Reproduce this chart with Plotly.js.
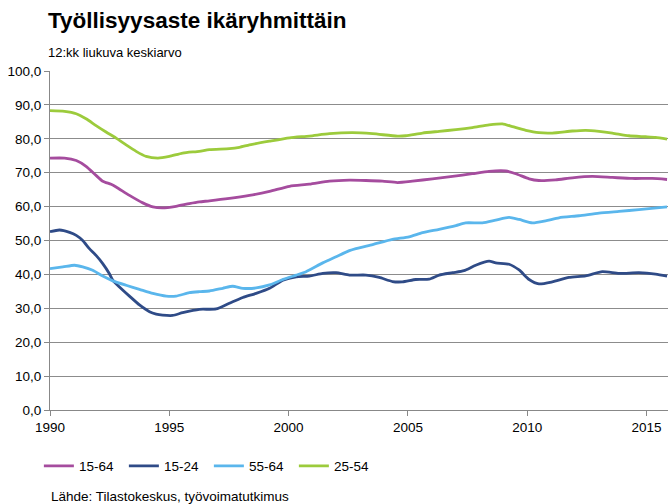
<!DOCTYPE html>
<html>
<head>
<meta charset="utf-8">
<script src="https://cdn.plot.ly/plotly-3.0.1.min.js"></script>
<style>
html, body { margin: 0; padding: 0; background: #fff; }
#chart { width: 668px; height: 504px; }
</style>
</head>
<body>
<div id="chart"></div>
<script>
// Series names (legend order)
const seriesNames = ["15-64", "15-24", "55-64", "25-54"];

// 15-64
const years1564 = [1990.0, 1990.61, 1991.1, 1991.51, 1991.93, 1992.21, 1992.56, 1992.77, 1993.33, 1993.89, 1994.31, 1994.72, 1995.28, 1995.84, 1996.26, 1996.68, 1997.52, 1998.36, 1999.2, 2000.04, 2000.87, 2001.71, 2002.55, 2003.24, 2003.93, 2004.56, 2005.19, 2006.03, 2006.87, 2007.7, 2008.4, 2009.1, 2009.52, 2010.08, 2010.49, 2011.19, 2011.89, 2012.73, 2013.57, 2014.4, 2015.24, 2015.86];
const values1564 = [74.3, 74.3, 73.6, 71.9, 69.2, 67.5, 66.6, 65.8, 63.3, 61.1, 59.9, 59.6, 60.1, 60.9, 61.4, 61.7, 62.4, 63.3, 64.5, 66.0, 66.6, 67.5, 67.8, 67.7, 67.5, 67.1, 67.5, 68.2, 68.9, 69.7, 70.4, 70.5, 69.7, 68.2, 67.7, 67.9, 68.5, 68.9, 68.6, 68.3, 68.3, 68.0];

// 15-24
const years1524 = [1990.0, 1990.4, 1990.82, 1991.1, 1991.37, 1991.65, 1991.93, 1992.21, 1992.49, 1992.63, 1992.91, 1993.33, 1993.75, 1994.17, 1994.45, 1994.72, 1995.14, 1995.56, 1996.26, 1996.96, 1997.52, 1998.08, 1998.64, 1999.2, 1999.76, 2000.32, 2000.87, 2001.43, 2001.99, 2002.55, 2003.24, 2003.8, 2004.35, 2004.77, 2005.33, 2005.89, 2006.31, 2006.87, 2007.35, 2007.84, 2008.4, 2008.68, 2009.24, 2009.66, 2010.08, 2010.49, 2011.05, 2011.75, 2012.45, 2013.15, 2013.85, 2014.68, 2015.38, 2015.86];
const values1524 = [52.6, 53.1, 52.4, 51.5, 50.0, 47.6, 45.6, 43.2, 40.2, 38.3, 36.3, 33.6, 31.0, 29.0, 28.3, 28.0, 27.9, 28.7, 29.7, 29.8, 31.5, 33.2, 34.4, 35.9, 38.3, 39.3, 39.5, 40.3, 40.5, 39.8, 39.8, 39.1, 37.9, 37.8, 38.5, 38.6, 39.8, 40.5, 41.1, 42.7, 43.9, 43.4, 43.0, 41.3, 38.5, 37.2, 37.8, 39.1, 39.6, 40.8, 40.3, 40.5, 40.1, 39.5];

// 55-64
const years5564 = [1990.0, 1990.54, 1991.03, 1991.37, 1991.79, 1992.21, 1992.63, 1993.19, 1993.75, 1994.31, 1994.87, 1995.28, 1995.84, 1996.26, 1996.68, 1997.24, 1997.66, 1998.08, 1998.64, 1999.2, 1999.76, 2000.32, 2000.73, 2001.43, 2001.99, 2002.55, 2002.82, 2003.52, 2004.35, 2005.05, 2005.61, 2006.31, 2007.01, 2007.42, 2008.12, 2008.68, 2009.24, 2009.66, 2010.22, 2010.77, 2011.33, 2012.17, 2013.01, 2013.85, 2014.68, 2015.86];
const values5564 = [41.7, 42.2, 42.7, 42.2, 41.2, 39.5, 38.1, 36.8, 35.6, 34.4, 33.6, 33.6, 34.6, 34.9, 35.1, 35.9, 36.5, 35.9, 36.0, 36.9, 38.5, 39.8, 40.8, 43.4, 45.2, 47.0, 47.6, 48.8, 50.3, 51.1, 52.3, 53.3, 54.4, 55.2, 55.2, 56.0, 56.8, 56.2, 55.2, 55.8, 56.7, 57.3, 58.1, 58.6, 59.1, 59.9];

// 25-54
const years2554 = [1990.0, 1990.61, 1991.1, 1991.51, 1991.93, 1992.35, 1992.77, 1993.19, 1993.61, 1994.03, 1994.52, 1995.0, 1995.56, 1996.26, 1996.68, 1997.52, 1997.94, 1998.36, 1999.2, 2000.04, 2000.87, 2001.71, 2002.68, 2003.52, 2004.56, 2004.91, 2005.61, 2006.31, 2007.01, 2007.7, 2008.4, 2008.96, 2009.38, 2009.94, 2010.49, 2011.05, 2011.89, 2012.45, 2013.01, 2013.57, 2014.26, 2014.96, 2015.38, 2015.86];
const values2554 = [88.3, 88.1, 87.4, 85.9, 83.9, 82.0, 80.2, 78.2, 76.3, 74.8, 74.3, 74.8, 75.8, 76.3, 76.8, 77.1, 77.5, 78.2, 79.3, 80.3, 80.8, 81.5, 81.8, 81.5, 80.8, 80.9, 81.7, 82.2, 82.7, 83.3, 84.1, 84.4, 83.6, 82.5, 81.8, 81.7, 82.3, 82.5, 82.2, 81.7, 80.9, 80.6, 80.4, 79.9];

const xTickVals = [1990, 1995, 2000, 2005, 2010, 2015];
const xTickText = ["1990", "1995", "2000", "2005", "2010", "2015"];
const yTickVals = [0, 10, 20, 30, 40, 50, 60, 70, 80, 90, 100];

const colors = ["#A54C9E", "#2F4B87", "#5AB6EC", "#9CCB3C"];
const xs = [years1564, years1524, years5564, years2554];
const ys = [values1564, values1524, values5564, values2554];

const traces = seriesNames.map((name, i) => ({
  type: "scatter",
  mode: "lines",
  name: name,
  x: xs[i],
  y: ys[i],
  line: { color: colors[i], width: 2.8, shape: "spline", smoothing: 0.6 },
  hoverinfo: "skip"
}));

const font = "Liberation Sans, Arial, sans-serif";

const layout = {
  width: 668,
  height: 504,
  margin: { l: 50, r: 0, t: 71, b: 94, pad: 0 },
  paper_bgcolor: "#ffffff",
  plot_bgcolor: "#ffffff",
  separators: ", ",
  font: { family: font, size: 13, color: "#000" },
  title: {
    text: "<b>Työllisyysaste ikäryhmittäin</b>",
    font: { family: font, size: 22.5, color: "#000" },
    xref: "container", yref: "container",
    x: 48 / 668, xanchor: "left",
    y: 1 - 20 / 504, yanchor: "middle"
  },
  xaxis: {
    range: [1990, 2015.9],
    tickvals: xTickVals,
    ticktext: xTickText,
    ticks: "outside",
    ticklen: 5,
    tickcolor: "#888",
    showline: true,
    linecolor: "#888",
    linewidth: 1,
    showgrid: false,
    zeroline: false,
    tickfont: { family: font, size: 13.5, color: "#000" },
    fixedrange: true
  },
  yaxis: {
    range: [0, 100],
    tickvals: yTickVals,
    tickformat: ".1f",
    ticks: "outside",
    ticklen: 5,
    tickcolor: "#888",
    showline: true,
    linecolor: "#888",
    linewidth: 1,
    showgrid: true,
    gridcolor: "#8c8c8c",
    gridwidth: 1,
    zeroline: false,
    tickfont: { family: font, size: 13.5, color: "#000" },
    fixedrange: true
  },
  showlegend: true,
  legend: {
    orientation: "h",
    x: -0.018, xanchor: "left",
    y: (410 - 466) / 339, yanchor: "middle",
    font: { family: font, size: 13.5, color: "#000" },
    entrywidth: 40,
    entrywidthmode: "pixels",
    bgcolor: "rgba(0,0,0,0)",
    traceorder: "normal"
  },
  annotations: [
    {
      text: "12:kk liukuva keskiarvo",
      xref: "paper", yref: "paper",
      x: (46 - 50) / 618, xanchor: "left",
      y: (410 - 52) / 339, yanchor: "middle",
      showarrow: false,
      font: { family: font, size: 13, color: "#000" }
    },
    {
      text: "Lähde: Tilastokeskus, työvoimatutkimus",
      xref: "paper", yref: "paper",
      x: (49 - 50) / 618, xanchor: "left",
      y: (410 - 496) / 339, yanchor: "middle",
      showarrow: false,
      font: { family: font, size: 13.5, color: "#000" }
    }
  ]
};

Plotly.newPlot("chart", traces, layout, { displayModeBar: false, staticPlot: true });
</script>
</body>
</html>
